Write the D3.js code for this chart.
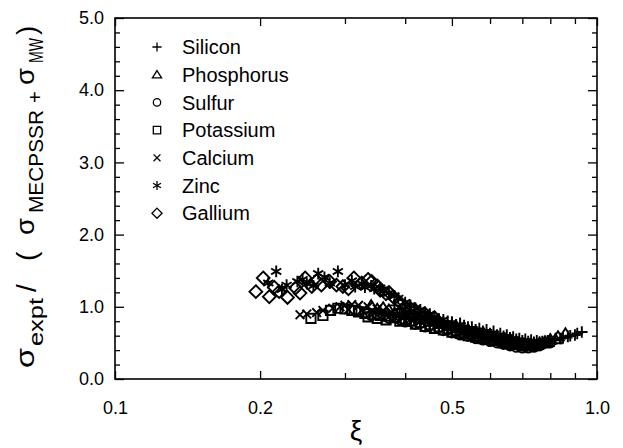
<!DOCTYPE html>
<html><head><meta charset="utf-8">
<script src="https://cdn.jsdelivr.net/npm/d3@7"></script>
<style>
html,body{margin:0;padding:0;background:#fff;}
svg{display:block;font-family:"Liberation Sans",Arial,sans-serif;}
</style></head>
<body>
<svg id="c" width="623" height="448"></svg>
<script>
// ---- data ----
const seriesNames = ["Silicon","Phosphorus","Sulfur","Potassium","Calcium","Zinc","Gallium"];
const seriesSymbols = ["plus","triangle","circle","square","cross","asterisk","diamond"];

const siliconXi = [0.38,0.40,0.41,0.43,0.44,0.46,0.47,0.49,0.50,0.52,0.53,0.55,0.57,0.59,0.61,0.63,0.65,0.67,0.69,0.71,0.73,0.75,0.77,0.79,0.82,0.85,0.88,0.91,0.93,
                   0.39,0.42,0.45,0.48,0.51,0.54,0.56,0.58,0.60,0.62,0.64,0.66,0.68,0.70,0.72,0.74,0.76,0.78,0.80,0.84,0.87,0.90];
const siliconR  = [1.02,0.98,0.95,0.92,0.88,0.86,0.83,0.80,0.79,0.77,0.74,0.72,0.70,0.68,0.66,0.63,0.61,0.58,0.56,0.55,0.54,0.53,0.52,0.53,0.55,0.57,0.60,0.63,0.65,
                   0.97,0.90,0.84,0.79,0.75,0.72,0.68,0.66,0.63,0.61,0.59,0.57,0.55,0.53,0.52,0.51,0.51,0.52,0.53,0.56,0.59,0.61];

const phosphorusXi = [0.34,0.36,0.37,0.39,0.41,0.42,0.44,0.46,0.48,0.50,0.52,0.54,0.56,0.58,0.60,0.62,0.64,0.66,0.68,0.70,0.72,0.74,0.76,0.78,0.80,0.83,0.86,
                      0.35,0.38,0.40,0.43,0.45,0.47,0.49,0.51,0.53,0.55,0.57,0.59,0.61,0.63,0.65,0.67,0.69,0.71,0.73,0.75,0.77,0.79,0.82];
const phosphorusR  = [1.02,0.99,0.96,0.93,0.89,0.87,0.83,0.80,0.77,0.74,0.71,0.68,0.66,0.63,0.60,0.58,0.56,0.53,0.52,0.50,0.49,0.49,0.50,0.52,0.55,0.59,0.63,
                      0.97,0.91,0.88,0.84,0.79,0.76,0.73,0.70,0.67,0.64,0.62,0.60,0.57,0.55,0.53,0.51,0.49,0.48,0.47,0.47,0.49,0.51,0.55];

const sulfurXi = [0.32,0.33,0.35,0.36,0.38,0.39,0.41,0.43,0.45,0.47,0.49,0.51,0.53,0.55,0.57,0.59,0.61,0.63,0.65,0.67,0.69,0.71,0.73,0.75,0.77,0.80,
                  0.34,0.37,0.40,0.42,0.44,0.46,0.48,0.50,0.52,0.54,0.56,0.58,0.60,0.62,0.64,0.66,0.68,0.70,0.72,0.74,0.76];
const sulfurR  = [0.95,0.92,0.90,0.87,0.85,0.82,0.80,0.77,0.74,0.71,0.68,0.65,0.63,0.60,0.58,0.55,0.53,0.51,0.49,0.47,0.46,0.45,0.45,0.46,0.48,0.50,
                  0.88,0.84,0.79,0.76,0.72,0.70,0.67,0.64,0.61,0.59,0.56,0.54,0.52,0.50,0.48,0.46,0.44,0.43,0.43,0.44,0.46];

const potassiumXi = [0.255,0.27,0.28,0.29,0.30,0.31,0.32,0.33,0.345,0.355,0.37,0.38,0.40,0.41,0.43,0.45,0.47,0.49,0.51,0.53,0.55,0.57,0.59,0.62,0.65,0.68,0.72,
                     0.335,0.35,0.365,0.39,0.42,0.44,0.46,0.48,0.50,0.52,0.54,0.56,0.58,0.61,0.64,0.67,0.70];
const potassiumR  = [0.84,0.88,0.95,0.98,0.97,0.95,0.93,0.91,0.89,0.88,0.87,0.85,0.83,0.80,0.78,0.75,0.72,0.70,0.67,0.64,0.62,0.59,0.57,0.54,0.51,0.49,0.48,
                     0.86,0.84,0.82,0.80,0.76,0.73,0.70,0.68,0.65,0.63,0.60,0.58,0.56,0.53,0.50,0.48,0.46];

const calciumXi = [0.242,0.25,0.262,0.27,0.283,0.293,0.30,0.31,0.32,0.335,0.35,0.36,0.375,0.39,0.40,0.42,0.44,0.46,0.48,0.50,0.52,0.55,0.58,0.61,0.65,
                   0.305,0.325,0.345,0.365,0.38,0.41,0.43,0.45,0.47,0.49,0.53,0.56,0.60,0.63];
const calciumR  = [0.89,0.90,0.92,0.95,0.98,1.00,1.02,1.03,1.02,1.00,0.97,0.95,0.92,0.90,0.88,0.85,0.82,0.79,0.76,0.73,0.70,0.67,0.63,0.60,0.56,
                   0.96,0.95,0.92,0.88,0.86,0.83,0.80,0.78,0.75,0.72,0.68,0.64,0.60,0.58];

const zincXi = [0.208,0.216,0.227,0.239,0.25,0.264,0.279,0.29,0.30,0.315,0.33,0.345,0.36,0.37,0.387,0.40,0.42,0.44,0.46,0.48,0.50,0.52,
                0.222,0.245,0.258,0.272,0.31,0.325,0.34,0.355,0.38,0.41,0.43,0.45];
const zincR  = [1.33,1.49,1.30,1.35,1.32,1.46,1.33,1.49,1.30,1.28,1.27,1.25,1.22,1.19,1.12,1.06,0.98,0.92,0.86,0.82,0.78,0.75,
                1.24,1.38,1.29,1.41,1.36,1.32,1.29,1.26,1.15,1.02,0.96,0.90];

const galliumXi = [0.196,0.203,0.209,0.219,0.228,0.237,0.248,0.256,0.268,0.279,0.288,0.297,0.313,0.325,0.341,0.355,0.365,0.38,0.39,0.40,0.42,0.44,0.46,
                   0.214,0.242,0.262,0.305,0.335,0.35,0.37,0.41];
const galliumR  = [1.21,1.40,1.14,1.21,1.13,1.26,1.40,1.28,1.30,1.35,1.30,1.28,1.40,1.33,1.35,1.23,1.18,1.12,1.06,1.00,0.95,0.90,0.85,
                   1.27,1.19,1.36,1.25,1.38,1.29,1.20,0.98];

const xMajorTicks = [0.1,0.2,0.5,1.0];
const xTickLabels = ["0.1","0.2","0.5","1.0"];
const xMinorTicks = [0.3,0.4,0.6,0.7,0.8,0.9];
const yMajorTicks = [0,1,2,3,4,5];
const yTickLabels = ["0.0","1.0","2.0","3.0","4.0","5.0"];
const yMinorTicks = [0.2,0.4,0.6,0.8,1.2,1.4,1.6,1.8,2.2,2.4,2.6,2.8,3.2,3.4,3.6,3.8,4.2,4.4,4.6,4.8];

const seriesXi = [siliconXi,phosphorusXi,sulfurXi,potassiumXi,calciumXi,zincXi,galliumXi];
const seriesR  = [siliconR,phosphorusR,sulfurR,potassiumR,calciumR,zincR,galliumR];

// ---- layout ----
const L=115, R=597, T=18, B=379;
const svg = d3.select("#c");
const x = d3.scaleLog().domain([0.1,1]).range([L,R]);
const y = d3.scaleLinear().domain([0,5]).range([B,T]);

function sym(type, s){
  const p = d3.path();
  switch(type){
    case "plus": p.moveTo(-s,0);p.lineTo(s,0);p.moveTo(0,-s);p.lineTo(0,s);break;
    case "cross": {const a=s*0.75;p.moveTo(-a,-a);p.lineTo(a,a);p.moveTo(-a,a);p.lineTo(a,-a);break;}
    case "triangle": {const h=s*0.9;p.moveTo(0,-h);p.lineTo(s,h*0.75);p.lineTo(-s,h*0.75);p.closePath();break;}
    case "circle": p.moveTo(s*0.8,0);p.arc(0,0,s*0.8,0,2*Math.PI);break;
    case "square": {const a=s*0.8;p.rect(-a,-a,2*a,2*a);break;}
    case "diamond": p.moveTo(0,-s*1.1);p.lineTo(s*1.1,0);p.lineTo(0,s*1.1);p.lineTo(-s*1.1,0);p.closePath();break;
    case "asterisk": {p.moveTo(0,-s);p.lineTo(0,s);const c=s*0.87,d=s*0.5;p.moveTo(-c,-d);p.lineTo(c,d);p.moveTo(-c,d);p.lineTo(c,-d);break;}
  }
  return p.toString();
}

// ---- axes ----
const fontTick = 18;
function styleAxis(g){ g.select(".domain").remove(); g.selectAll("line").attr("stroke","#000").attr("stroke-width",1.3); g.selectAll("text").attr("font-size",fontTick).attr("fill","#000").attr("font-family","Liberation Sans, Arial, sans-serif"); }

svg.append("g").attr("transform",`translate(0,${B})`)
  .call(d3.axisBottom(x).tickValues(xMajorTicks).tickSize(-8).tickPadding(22).tickFormat((d,i)=>xTickLabels[i]))
  .call(styleAxis);
svg.append("g").attr("transform",`translate(0,${B})`)
  .call(d3.axisBottom(x).tickValues(xMinorTicks).tickSize(-6).tickFormat(""))
  .call(styleAxis);
svg.append("g").attr("transform",`translate(0,${T})`)
  .call(d3.axisTop(x).tickValues(xMajorTicks).tickSize(-8).tickFormat(""))
  .call(styleAxis);
svg.append("g").attr("transform",`translate(0,${T})`)
  .call(d3.axisTop(x).tickValues(xMinorTicks).tickSize(-6).tickFormat(""))
  .call(styleAxis);
svg.append("g").attr("transform",`translate(${L},0)`)
  .call(d3.axisLeft(y).tickValues(yMajorTicks).tickSize(-9).tickPadding(11).tickFormat((d,i)=>yTickLabels[i]))
  .call(styleAxis);
svg.append("g").attr("transform",`translate(${L},0)`)
  .call(d3.axisLeft(y).tickValues(yMinorTicks).tickSize(-5).tickFormat(""))
  .call(styleAxis);
svg.append("g").attr("transform",`translate(${R},0)`)
  .call(d3.axisRight(y).tickValues(yMajorTicks).tickSize(-9).tickFormat(""))
  .call(styleAxis);
svg.append("g").attr("transform",`translate(${R},0)`)
  .call(d3.axisRight(y).tickValues(yMinorTicks).tickSize(-5).tickFormat(""))
  .call(styleAxis);

svg.append("rect").attr("x",L).attr("y",T).attr("width",R-L).attr("height",B-T)
  .attr("fill","none").attr("stroke","#000").attr("stroke-width",1.6);

// ---- data points ----
seriesNames.forEach((name,i)=>{
  const pts = seriesXi[i].map((v,j)=>({xi:v, r:seriesR[i][j]}));
  svg.append("g").attr("class","series-"+name)
    .selectAll("path").data(pts).join("path")
    .attr("transform",d=>`translate(${x(d.xi)},${y(d.r)})`)
    .attr("d",sym(seriesSymbols[i],5.8))
    .attr("fill","none").attr("stroke","#000").attr("stroke-width",1.9);
});

// ---- legend ----
const lg = svg.append("g");
seriesNames.forEach((name,i)=>{
  const yy = 47 + i*27.7;
  lg.append("path").attr("transform",`translate(157,${yy})`).attr("d",sym(seriesSymbols[i],4.6))
    .attr("fill","none").attr("stroke","#000").attr("stroke-width",1.3);
  lg.append("text").attr("x",182).attr("y",yy).attr("dy","0.36em").attr("font-size",20).attr("fill","#000").text(name);
});

// ---- axis titles ----
svg.append("text").attr("x",(L+R)/2).attr("y",440).attr("text-anchor","middle").attr("font-size",28).text("ξ");

const yt = svg.append("g").attr("transform","translate(34,0) rotate(-90)");
function piece(txt, u, size, off, len){
  const t = yt.append("text").attr("x",-u).attr("y",off).attr("font-size",size).attr("fill","#000").text(txt);
  if(len) t.attr("textLength",len).attr("lengthAdjust","spacingAndGlyphs");
}
piece("σ",368,26,0,20);
piece("expt",346,20,9,48);
piece("/",292,28,2);
piece("(",261,28,2);
piece("σ",235,26,0,17);
piece("MECPSSR",213,20,9,103);
piece("+",103,20,8);
piece("σ",85,26,0,17);
piece("MW",63,20,9,25);
piece(")",35,28,2);
</script>
</body></html>
